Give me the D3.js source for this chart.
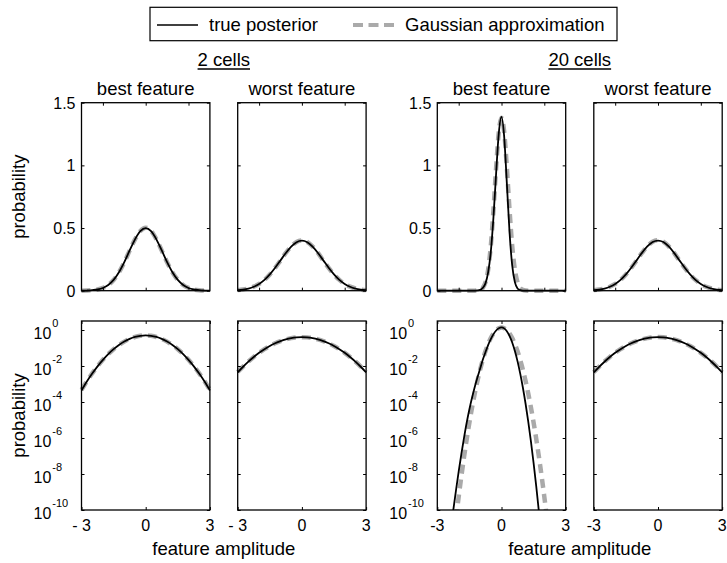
<!DOCTYPE html>
<html>
<head>
<meta charset="utf-8">
<script src="https://cdn.jsdelivr.net/npm/d3@7"></script>
<style>
  body { margin: 0; background: #fff; }
  svg { display: block; font-family: "Liberation Sans", Arial, sans-serif; }
</style>
</head>
<body>
<div id="vis"></div>
<script>
// sample positions along the feature axis
const xWide = [-3, -2.75, -2.5, -2.25, -2, -1.75, -1.5, -1.25, -1, -0.75, -0.5, -0.25, 0,
  0.25, 0.5, 0.75, 1, 1.25, 1.5, 1.75, 2, 2.25, 2.5, 2.75, 3]
const xNarrow = [-3, -2.875, -2.75, -2.625, -2.5, -2.375, -2.25, -2.125, -2, -1.875, -1.75, -1.625,
  -1.5, -1.375, -1.25, -1.125, -1, -0.875, -0.75, -0.625, -0.5, -0.375, -0.25, -0.125, 0,
  0.125, 0.25, 0.375, 0.5, 0.625, 0.75, 0.875, 1, 1.125, 1.25, 1.375, 1.5, 1.625, 1.75, 1.875,
  2, 2.125, 2.25, 2.375, 2.5, 2.625, 2.75, 2.875, 3]

// 2 cells, best feature
const best2True = [4.4e-4, 1.36e-3, 3.78e-3, 9.55e-3, 0.0219, 0.0456, 0.086, 0.147, 0.228, 0.321, 0.41, 0.475, 0.499,
  0.475, 0.41, 0.321, 0.228, 0.147, 0.086, 0.0456, 0.0219, 9.55e-3, 3.78e-3, 1.36e-3, 4.4e-4]
const best2Gauss = [4.7e-4, 1.42e-3, 3.9e-3, 9.7e-3, 0.0221, 0.0457, 0.086, 0.146, 0.227, 0.32, 0.41, 0.477, 0.503,
  0.477, 0.41, 0.32, 0.227, 0.146, 0.086, 0.0457, 0.0221, 9.7e-3, 3.9e-3, 1.42e-3, 4.7e-4]
// 2 cells, worst feature
const worst2True = [4.43e-3, 9.09e-3, 0.0175, 0.0317, 0.054, 0.0863, 0.13, 0.183, 0.242, 0.301, 0.352, 0.387, 0.399,
  0.387, 0.352, 0.301, 0.242, 0.183, 0.13, 0.0863, 0.054, 0.0317, 0.0175, 9.09e-3, 4.43e-3]
const worst2Gauss = [4.6e-3, 9.3e-3, 0.0178, 0.032, 0.054, 0.086, 0.129, 0.182, 0.241, 0.301, 0.353, 0.389, 0.401,
  0.389, 0.353, 0.301, 0.241, 0.182, 0.129, 0.086, 0.054, 0.032, 0.0178, 9.3e-3, 4.6e-3]
// 20 cells, best feature (skewed true posterior, heavier left tail)
const best20True = [1.4e-18, 4.1e-17, 1.0e-15, 2.3e-14, 4.4e-13, 7.2e-12, 1.04e-10, 1.29e-9, 1.39e-8, 1.29e-7, 1.04e-6, 7.26e-6,
  3.95e-5, 1.77e-4, 6.76e-4, 2.28e-3, 6.95e-3, 0.022, 0.0581, 0.146, 0.31, 0.588, 0.94, 1.259, 1.387,
  1.229, 0.856, 0.469, 0.2016, 0.0681, 0.0181, 3.78e-3, 6.2e-4, 8.0e-5, 8.1e-6, 6.4e-7, 4.0e-8, 2.0e-9, 7.6e-11, 2.3e-12,
  5.5e-14, 1.0e-15, 1.5e-17, 1.8e-19, 1.6e-21, 1.1e-23, 6.5e-26, 2.8e-28, 1e-30]
const best20Gauss = [9.8e-22, 5.2e-20, 2.3e-18, 8.9e-17, 2.8e-15, 7.7e-14, 1.75e-12, 3.4e-11, 5.5e-10, 7.6e-9, 8.8e-8, 8.6e-7,
  7.12e-6, 4.98e-5, 2.94e-4, 1.47e-3, 6.17e-3, 0.0219, 0.0658, 0.1667, 0.357, 0.645, 0.984, 1.268, 1.38,
  1.268, 0.984, 0.645, 0.357, 0.1667, 0.0658, 0.0219, 6.17e-3, 1.47e-3, 2.94e-4, 4.98e-5, 7.12e-6, 8.6e-7, 8.8e-8, 7.6e-9,
  5.5e-10, 3.4e-11, 1.75e-12, 7.7e-14, 2.8e-15, 8.9e-17, 2.3e-18, 5.2e-20, 9.8e-22]
// 20 cells, worst feature
const worst20True = [4.35e-3, 8.95e-3, 0.0173, 0.0315, 0.0538, 0.0862, 0.13, 0.183, 0.242, 0.302, 0.353, 0.388, 0.4,
  0.388, 0.353, 0.302, 0.242, 0.183, 0.13, 0.0862, 0.0538, 0.0315, 0.0173, 8.95e-3, 4.35e-3]
const worst20Gauss = [4.5e-3, 9.2e-3, 0.0177, 0.0319, 0.054, 0.086, 0.129, 0.182, 0.241, 0.301, 0.354, 0.39, 0.402,
  0.39, 0.354, 0.301, 0.241, 0.182, 0.129, 0.086, 0.054, 0.0319, 0.0177, 9.2e-3, 4.5e-3]

const panelTitles = ['best feature', 'worst feature', 'best feature', 'worst feature']
const groupTitles = ['2 cells', '20 cells']
const legendLabels = ['true posterior', 'Gaussian approximation']
const linTicks = [0, 0.5, 1, 1.5]
const linTickLabels = ['0', '0.5', '1', '1.5']
const logTicks = [1, 1e-2, 1e-4, 1e-6, 1e-8, 1e-10]
const logTickExps = ['0', '-2', '-4', '-6', '-8', '-10']
const xTicksTop = [-2, 0, 2]
const xTicksBottom = [-3, 0, 3]
const xTickLabels = [['- 3', '0', '3'], ['-3', '0', '3']]

const panels = [
  { xs: xWide, t: best2True, g: best2Gauss, group: 0 },
  { xs: xWide, t: worst2True, g: worst2Gauss, group: 0 },
  { xs: xNarrow, t: best20True, g: best20Gauss, group: 1 },
  { xs: xWide, t: worst20True, g: worst20Gauss, group: 1 }
]

const W = 727, H = 563
const panelLeft = [81.5, 237.7, 437.3, 593.8]
const panelW = 128.4
const rowTop = { lin: 102.7, log: 321 }
const rowBot = { lin: 290.7, log: 510 }
const grayCol = '#aaaaaa'
const tickFont = 16, labelFont = 18.5

const svg = d3.select('#vis').append('svg')
  .attr('width', W).attr('height', H)

const defs = svg.append('defs')

const yLin = d3.scaleLinear().domain([0, 1.5]).range([rowBot.lin, rowTop.lin])
const yLog = d3.scaleLog().domain([1e-10, Math.pow(10, 0.5)]).range([rowBot.log, rowTop.log])

function drawPanel(p, i, row) {
  const left = panelLeft[i]
  const x = d3.scaleLinear().domain([-3, 3]).range([left, left + panelW])
  const y = row === 'lin' ? yLin : yLog
  const top = rowTop[row], bot = rowBot[row]
  const g = svg.append('g').attr('class', 'panel-' + row + '-' + i)

  const clipId = 'clip-' + row + '-' + i
  defs.append('clipPath').attr('id', clipId)
    .append('rect')
    .attr('x', left - 2).attr('y', top - 2)
    .attr('width', panelW + 4).attr('height', bot - top + (row === 'lin' ? 5 : 2))

  const pts = (vals) => p.xs.map((v, k) => [v, vals[k]])
  const line = d3.line()
    .x(d => x(d[0]))
    .y(d => row === 'lin' ? y(d[1]) : y(Math.max(d[1], 1e-14)))
    .curve(d3.curveMonotoneX)

  const curves = g.append('g').attr('clip-path', `url(#${clipId})`)
  curves.append('path')
    .attr('d', line(pts(p.g)))
    .attr('fill', 'none')
    .attr('stroke', grayCol)
    .attr('stroke-width', 4.5)
    .attr('stroke-dasharray', '9,6')
  curves.append('path')
    .attr('d', line(pts(p.t)))
    .attr('fill', 'none')
    .attr('stroke', '#000')
    .attr('stroke-width', 1.8)

  // inward ticks on all four sides
  const yTicks = row === 'lin' ? linTicks : logTicks
  const xTicks = row === 'lin' ? xTicksTop : xTicksBottom
  const axes = [
    d3.axisLeft(y).tickValues(yTicks).tickSize(-3).tickFormat(''),
    d3.axisRight(y).tickValues(yTicks).tickSize(-3).tickFormat(''),
    d3.axisTop(x).tickValues(xTicks).tickSize(-3).tickFormat(''),
    d3.axisBottom(x).tickValues(xTicks).tickSize(-3).tickFormat('')
  ]
  const trans = [`translate(${left},0)`, `translate(${left + panelW},0)`,
    `translate(0,${top})`, `translate(0,${bot})`]
  axes.forEach((a, k) => {
    const ag = g.append('g').attr('transform', trans[k]).call(a)
    ag.select('.domain').remove()
    ag.selectAll('line').attr('stroke', '#000').attr('stroke-width', 1)
  })

  g.append('rect')
    .attr('x', left).attr('y', top)
    .attr('width', panelW).attr('height', bot - top)
    .attr('fill', 'none').attr('stroke', '#000').attr('stroke-width', 1.3)

  // tick labels
  if (i === 0 || i === 2) {
    if (row === 'lin') {
      g.selectAll('.ylab').data(linTicks).enter().append('text')
        .attr('x', left - 6)
        .attr('y', d => y(d) + 6)
        .attr('text-anchor', 'end')
        .attr('font-size', tickFont)
        .text((d, k) => linTickLabels[k])
    } else {
      const lt = g.selectAll('.ylab').data(logTicks).enter().append('text')
        .attr('x', left - 48)
        .attr('y', d => y(d) + 8.8)
        .attr('font-size', tickFont)
      lt.append('tspan').text('10')
      lt.append('tspan')
        .attr('dx', 1).attr('dy', -11.5)
        .attr('font-size', 11)
        .text((d, k) => logTickExps[k])
    }
  }
  if (row === 'log') {
    g.selectAll('.xlab').data(xTicksBottom).enter().append('text')
      .attr('x', d => x(d))
      .attr('y', 530.5)
      .attr('text-anchor', 'middle')
      .attr('font-size', tickFont)
      .text((d, k) => xTickLabels[p.group][k])
  } else {
    g.append('text')
      .attr('x', left + panelW / 2)
      .attr('y', 95)
      .attr('text-anchor', 'middle')
      .attr('font-size', labelFont)
      .text(panelTitles[i])
  }
}

panels.forEach((p, i) => {
  drawPanel(p, i, 'lin')
  drawPanel(p, i, 'log')
})

// y labels
;['lin', 'log'].forEach(row => {
  svg.append('text')
    .attr('transform', `translate(25,${(rowTop[row] + rowBot[row]) / 2}) rotate(-90)`)
    .attr('text-anchor', 'middle')
    .attr('font-size', labelFont)
    .text('probability')
})

// group titles (underlined) and x labels
groupTitles.forEach((t, k) => {
  const cx = (panelLeft[2 * k] + panelLeft[2 * k + 1] + panelW) / 2
  const txt = svg.append('text')
    .attr('x', cx).attr('y', 66)
    .attr('text-anchor', 'middle')
    .attr('font-size', labelFont)
    .text(t)
  const w = txt.node().getComputedTextLength()
  svg.append('line')
    .attr('x1', cx - w / 2).attr('x2', cx + w / 2)
    .attr('y1', 69).attr('y2', 69)
    .attr('stroke', '#000').attr('stroke-width', 1.3)

  svg.append('text')
    .attr('x', cx).attr('y', 555)
    .attr('text-anchor', 'middle')
    .attr('font-size', labelFont)
    .text('feature amplitude')
})

// legend
const leg = svg.append('g').attr('class', 'legend')
leg.append('rect')
  .attr('x', 150).attr('y', 7.3)
  .attr('width', 467).attr('height', 33.4)
  .attr('fill', '#fff').attr('stroke', '#000').attr('stroke-width', 1.2)
leg.append('line')
  .attr('x1', 157).attr('x2', 198).attr('y1', 25).attr('y2', 25)
  .attr('stroke', '#000').attr('stroke-width', 1.5)
leg.append('text')
  .attr('x', 209).attr('y', 30.5)
  .attr('font-size', labelFont)
  .text(legendLabels[0])
leg.append('line')
  .attr('x1', 353).attr('x2', 394).attr('y1', 25).attr('y2', 25)
  .attr('stroke', grayCol).attr('stroke-width', 4)
  .attr('stroke-dasharray', '10,5.5')
leg.append('text')
  .attr('x', 405).attr('y', 30.5)
  .attr('font-size', labelFont)
  .text(legendLabels[1])
</script>
</body>
</html>
